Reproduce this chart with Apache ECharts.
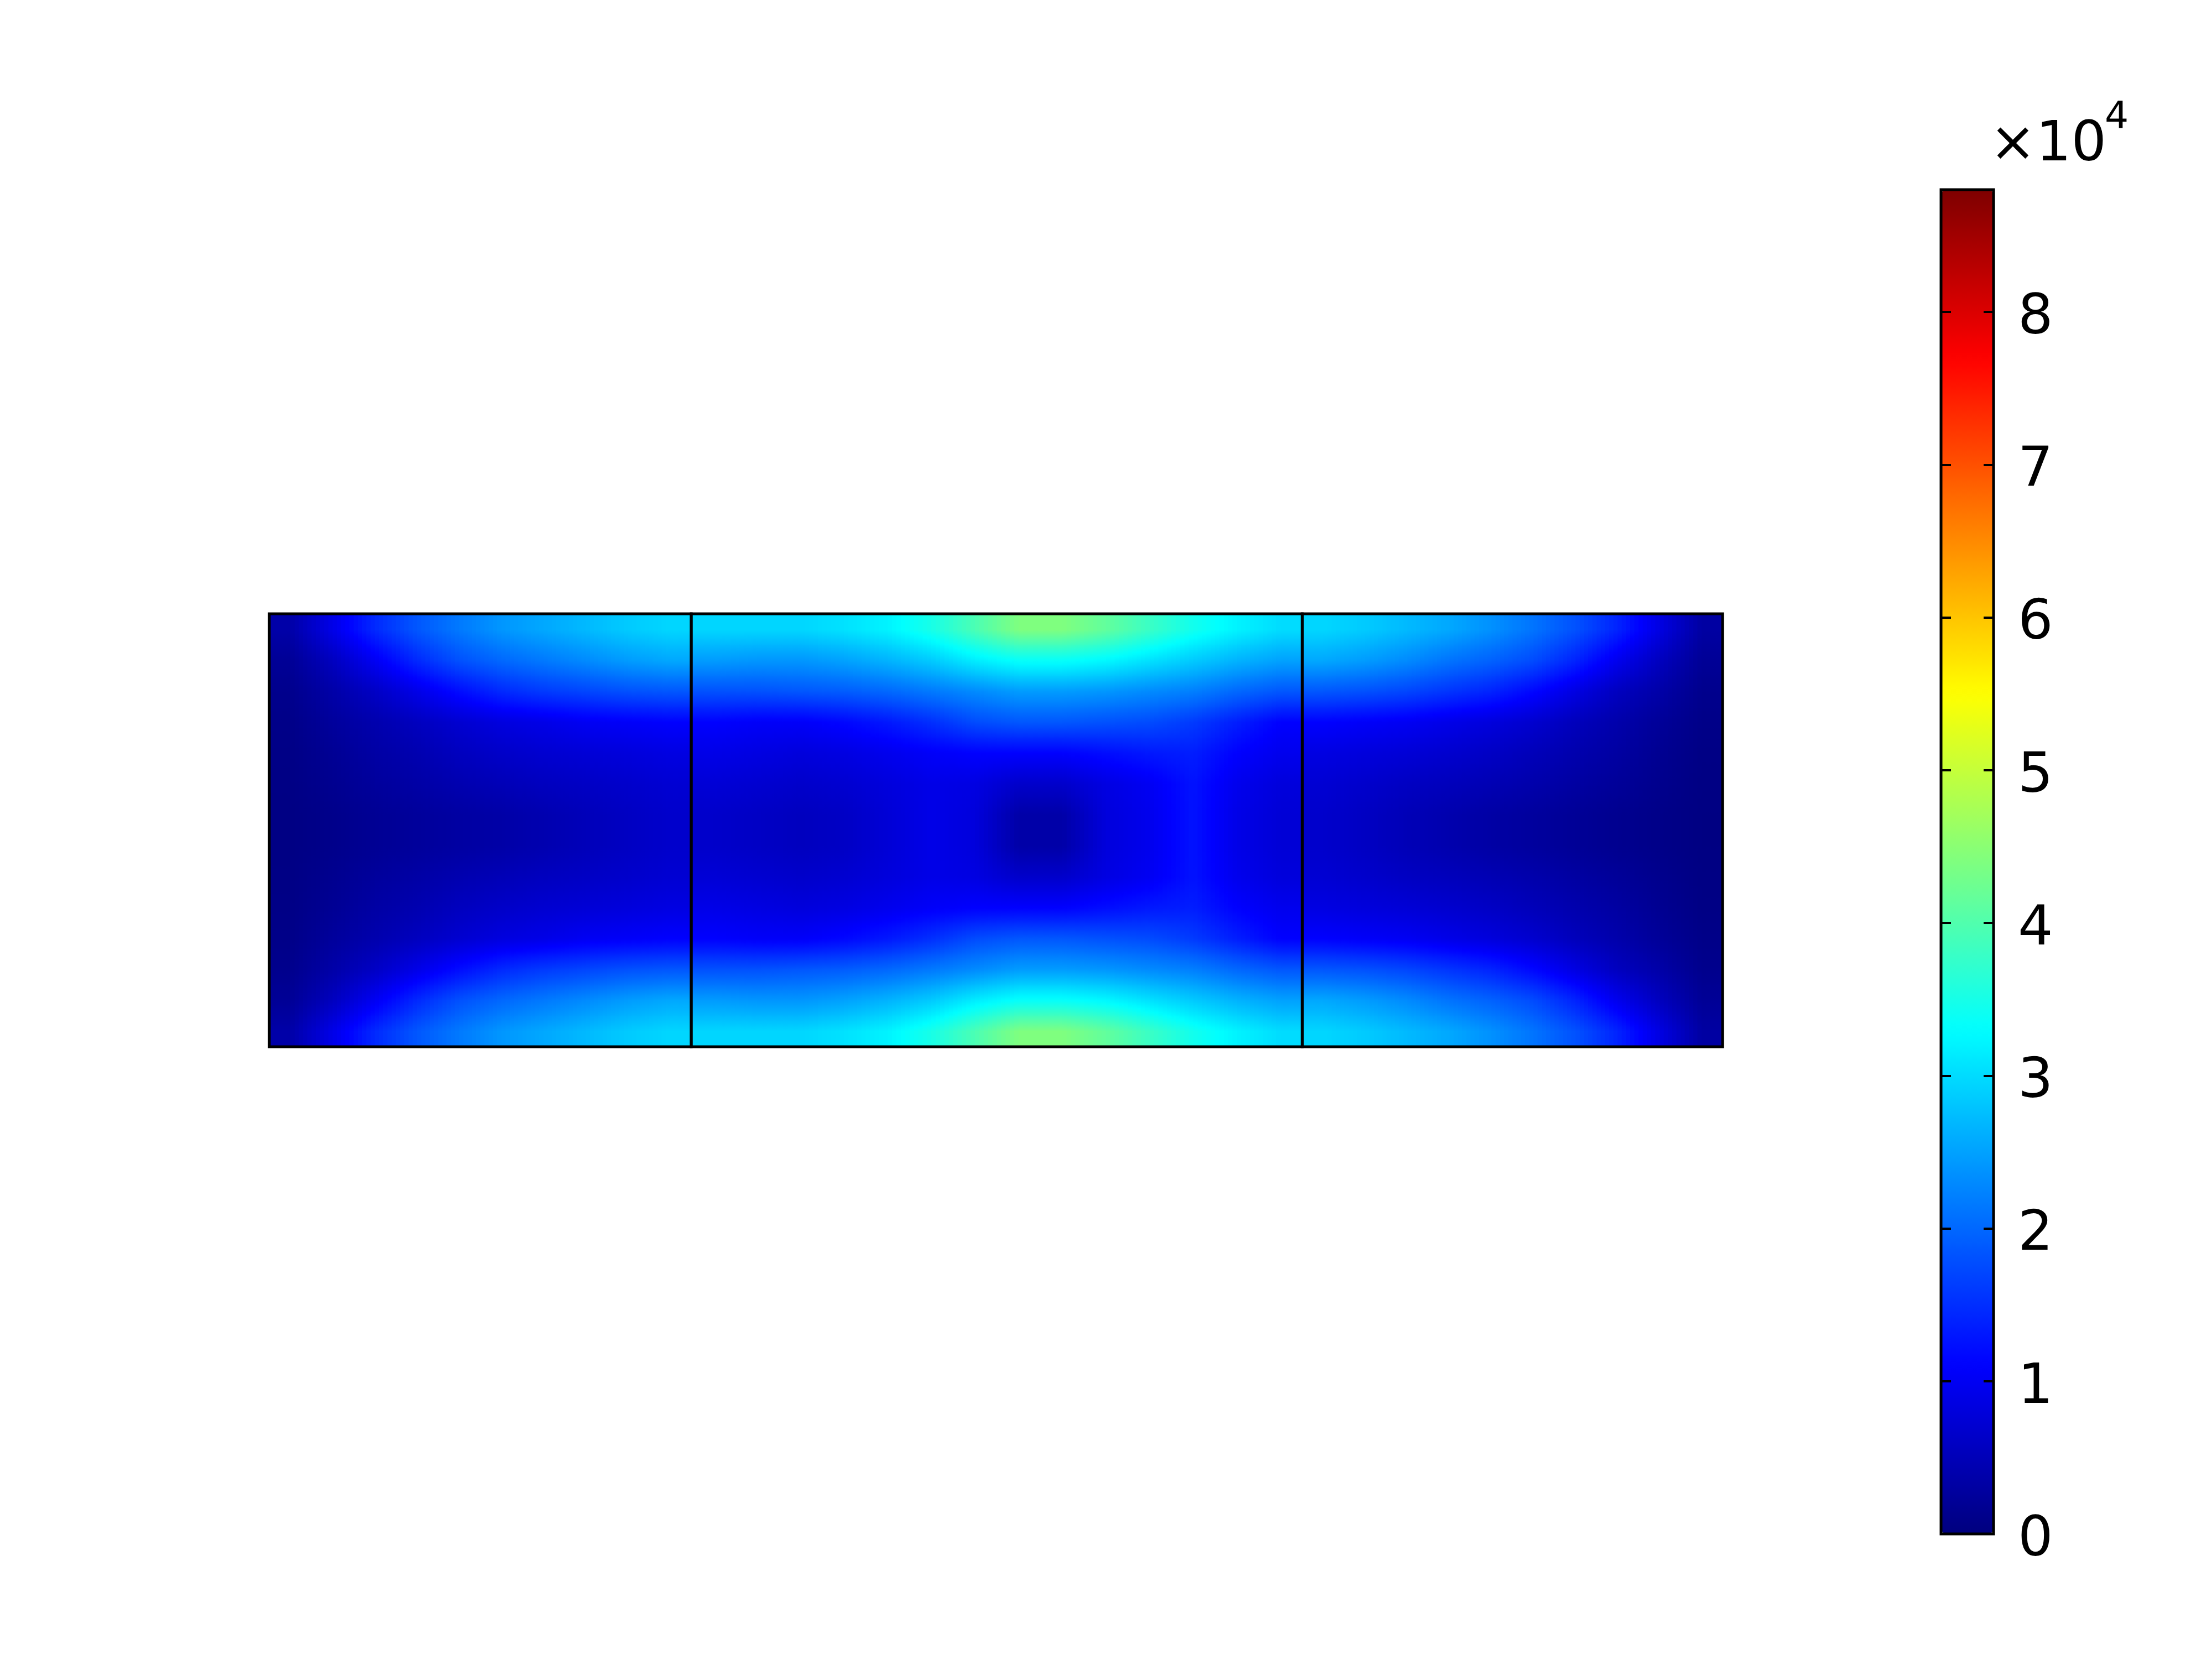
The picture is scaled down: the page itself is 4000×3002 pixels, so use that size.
<!DOCTYPE html>
<html>
<head>
<meta charset="utf-8">
<title>Surface plot</title>
<script src="https://cdn.jsdelivr.net/npm/echarts@6/dist/echarts.min.js"></script>
<style>
  html, body { margin: 0; padding: 0; background: #fff; }
  #main { width: 4000px; height: 3002px; }
</style>
</head>
<body>
<div id="main"></div>
<script>
// surface values in units of 10^4, sampled at cell centres, rows listed top to bottom
var leftRows = [
  [0.35, 0.9, 1.45, 1.85, 2.15, 2.4, 2.55, 2.7, 2.85, 2.95],
  [0.2, 0.55, 1.0, 1.45, 1.8, 2.0, 2.15, 2.3, 2.45, 2.55],
  [0.12, 0.35, 0.6, 0.9, 1.2, 1.45, 1.6, 1.7, 1.8, 1.85],
  [0.08, 0.25, 0.4, 0.55, 0.7, 0.82, 0.9, 1.0, 1.05, 1.1],
  [0.06, 0.18, 0.32, 0.42, 0.55, 0.63, 0.7, 0.75, 0.8, 0.85],
  [0.05, 0.14, 0.25, 0.33, 0.42, 0.48, 0.55, 0.6, 0.66, 0.72],
  [0.04, 0.1, 0.18, 0.24, 0.3, 0.34, 0.42, 0.5, 0.58, 0.66],
  [0.04, 0.1, 0.18, 0.24, 0.3, 0.34, 0.42, 0.5, 0.58, 0.66],
  [0.05, 0.14, 0.25, 0.33, 0.42, 0.48, 0.55, 0.6, 0.66, 0.72],
  [0.06, 0.18, 0.32, 0.42, 0.55, 0.63, 0.7, 0.75, 0.8, 0.85],
  [0.08, 0.25, 0.4, 0.55, 0.7, 0.82, 0.9, 1.0, 1.05, 1.1],
  [0.12, 0.35, 0.6, 0.9, 1.2, 1.45, 1.6, 1.7, 1.8, 1.85],
  [0.2, 0.55, 1.0, 1.45, 1.8, 2.0, 2.15, 2.3, 2.45, 2.55],
  [0.35, 0.9, 1.45, 1.85, 2.15, 2.4, 2.55, 2.7, 2.85, 2.95]
];
var midRows = [
  [2.95, 2.95, 2.95, 3.05, 3.2, 3.5, 3.95, 4.4, 4.4, 4.15, 3.8, 3.45, 3.2, 3.0],
  [2.45, 2.4, 2.4, 2.5, 2.65, 2.85, 3.15, 3.35, 3.35, 3.25, 3.05, 2.85, 2.65, 2.5],
  [1.8, 1.8, 1.85, 1.9, 2.0, 2.15, 2.3, 2.45, 2.45, 2.4, 2.3, 2.2, 2.0, 1.85],
  [1.1, 1.05, 1.05, 1.15, 1.3, 1.5, 1.75, 1.85, 1.85, 1.8, 1.75, 1.6, 1.35, 1.1],
  [0.9, 0.85, 0.8, 0.85, 0.95, 1.05, 1.1, 1.1, 1.1, 1.2, 1.3, 1.35, 1.1, 0.95],
  [0.75, 0.7, 0.65, 0.7, 0.8, 0.9, 0.85, 0.65, 0.65, 0.85, 1.0, 1.25, 0.95, 0.8],
  [0.65, 0.6, 0.55, 0.6, 0.75, 0.9, 0.8, 0.35, 0.35, 0.8, 0.95, 1.25, 0.9, 0.75],
  [0.65, 0.6, 0.55, 0.6, 0.75, 0.9, 0.8, 0.35, 0.35, 0.8, 0.95, 1.25, 0.9, 0.75],
  [0.75, 0.7, 0.65, 0.7, 0.8, 0.9, 0.85, 0.65, 0.65, 0.85, 1.0, 1.25, 0.95, 0.8],
  [0.9, 0.85, 0.8, 0.85, 0.95, 1.05, 1.1, 1.1, 1.1, 1.2, 1.3, 1.35, 1.1, 0.95],
  [1.1, 1.05, 1.05, 1.15, 1.3, 1.5, 1.75, 1.85, 1.85, 1.8, 1.75, 1.6, 1.35, 1.1],
  [1.8, 1.8, 1.85, 1.9, 2.0, 2.15, 2.3, 2.45, 2.45, 2.4, 2.3, 2.2, 2.0, 1.85],
  [2.45, 2.4, 2.4, 2.5, 2.65, 2.85, 3.15, 3.35, 3.35, 3.25, 3.05, 2.85, 2.65, 2.5],
  [2.95, 2.95, 2.95, 3.05, 3.2, 3.5, 3.95, 4.4, 4.4, 4.15, 3.8, 3.45, 3.2, 3.0]
];
var rightRows = [
  [2.95, 2.85, 2.7, 2.55, 2.35, 2.1, 1.8, 1.4, 0.85, 0.3],
  [2.55, 2.45, 2.3, 2.1, 1.95, 1.75, 1.4, 0.95, 0.55, 0.2],
  [1.85, 1.8, 1.7, 1.55, 1.4, 1.15, 0.85, 0.55, 0.35, 0.12],
  [1.1, 1.05, 1.0, 0.9, 0.8, 0.68, 0.52, 0.38, 0.22, 0.08],
  [0.85, 0.8, 0.75, 0.68, 0.6, 0.5, 0.4, 0.3, 0.16, 0.05],
  [0.72, 0.66, 0.58, 0.52, 0.45, 0.38, 0.3, 0.22, 0.12, 0.04],
  [0.66, 0.58, 0.48, 0.4, 0.32, 0.26, 0.2, 0.14, 0.08, 0.03],
  [0.66, 0.58, 0.48, 0.4, 0.32, 0.26, 0.2, 0.14, 0.08, 0.03],
  [0.72, 0.66, 0.58, 0.52, 0.45, 0.38, 0.3, 0.22, 0.12, 0.04],
  [0.85, 0.8, 0.75, 0.68, 0.6, 0.5, 0.4, 0.3, 0.16, 0.05],
  [1.1, 1.05, 1.0, 0.9, 0.8, 0.68, 0.52, 0.38, 0.22, 0.08],
  [1.85, 1.8, 1.7, 1.55, 1.4, 1.15, 0.85, 0.55, 0.35, 0.12],
  [2.55, 2.45, 2.3, 2.1, 1.95, 1.75, 1.4, 0.95, 0.55, 0.2],
  [2.95, 2.85, 2.7, 2.55, 2.35, 2.1, 1.8, 1.4, 0.85, 0.3]
];

// colour bar range (x10^4)
var barMin = 0;
var barMax = 8.8;
var barStep = 1;
var jetColors = ['#00007f', '#0000ff', '#007fff', '#00ffff', '#7fff7f',
                 '#ffff00', '#ff7f00', '#ff0000', '#7f0000'];

function indexList(n) {
  var out = [];
  for (var i = 0; i < n; i++) out.push(i);
  return out;
}
function toCells(rows) {
  var out = [];
  rows.forEach(function (row, r) {
    row.forEach(function (v, c) { out.push([c, r, v]); });
  });
  return out;
}

// smooth shading inside a cell: bilinear between neighbouring cell centres
function shadeAt(rows, fx, fy) {
  var nr = rows.length, nc = rows[0].length;
  fx = Math.max(0, Math.min(nc - 1, fx));
  fy = Math.max(0, Math.min(nr - 1, fy));
  var c0 = Math.min(Math.floor(fx), nc - 2), r0 = Math.min(Math.floor(fy), nr - 2);
  var tx = fx - c0, ty = fy - r0;
  var top = rows[r0][c0] * (1 - tx) + rows[r0][c0 + 1] * tx;
  var bot = rows[r0 + 1][c0] * (1 - tx) + rows[r0 + 1][c0 + 1] * tx;
  return top * (1 - ty) + bot * ty;
}
function jet(v) {
  var t = Math.max(0, Math.min(1, (v - barMin) / (barMax - barMin)));
  return echarts.color.lerp(t, jetColors);
}
function cellRenderer(rows) {
  var strips = 10, stops = 9;
  return function (params, api) {
    var c = api.value(0), r = api.value(1);
    var center = api.coord([c, r]);
    var size = api.size([1, 1]);
    var w = size[0], h = size[1];
    var x0 = center[0] - w / 2, y0 = center[1] - h / 2;
    var children = [];
    for (var s = 0; s < strips; s++) {
      var fx = c - 0.5 + (s + 0.5) / strips;
      var colorStops = [];
      for (var k = 0; k < stops; k++) {
        var fy = r - 0.5 + k / (stops - 1);
        colorStops.push({ offset: k / (stops - 1), color: jet(shadeAt(rows, fx, fy)) });
      }
      children.push({
        type: 'rect',
        shape: { x: x0 + s * w / strips, y: y0, width: w / strips + 1, height: h + 1 },
        style: { fill: new echarts.graphic.LinearGradient(0, 0, 0, 1, colorStops) },
        silent: true
      });
    }
    return { type: 'group', children: children };
  };
}

var chartDom = document.getElementById('main');
var myChart = echarts.init(chartDom, null, { renderer: 'canvas' });
var font = 'DejaVu Sans';

var sections = [leftRows, midRows, rightRows];
var gridBoxes = [
  { left: 487, top: 1110, width: 763, height: 783 },
  { left: 1250, top: 1110, width: 1105, height: 783 },
  { left: 2355, top: 1110, width: 760, height: 783 }
];

var grids = [], xAxes = [], yAxes = [], series = [];
sections.forEach(function (rows, i) {
  grids.push(Object.assign({ show: true, borderColor: '#000', borderWidth: 5,
    backgroundColor: 'transparent', z: 10 }, gridBoxes[i]));
  xAxes.push({ type: 'category', gridIndex: i, data: indexList(rows[0].length), show: false });
  yAxes.push({ type: 'category', gridIndex: i, data: indexList(rows.length), inverse: true, show: false });
  series.push({ type: 'custom', xAxisIndex: i, yAxisIndex: i, data: toCells(rows),
    renderItem: cellRenderer(rows), encode: { x: 0, y: 1 }, silent: true, clip: true });
});

// colour bar frame and ticks
grids.push({ show: true, left: 3510, top: 343, width: 95, height: 2431,
  borderColor: '#000', borderWidth: 5, backgroundColor: 'transparent', z: 10 });
xAxes.push({ type: 'value', gridIndex: 3, show: false });
var barAxis = {
  type: 'value', gridIndex: 3, min: barMin, max: barMax, interval: barStep, z: 12,
  axisLine: { show: false },
  axisTick: { show: true, inside: true, length: 18, lineStyle: { color: '#000', width: 4 } },
  splitLine: { show: false }
};
yAxes.push(Object.assign({}, barAxis, { position: 'left', axisLabel: { show: false } }));
yAxes.push(Object.assign({}, barAxis, { position: 'right',
  axisLabel: { show: true, color: '#000', fontSize: 100, fontFamily: font, margin: 44,
    showMaxLabel: false, verticalAlign: 'top', lineHeight: 26 } }));

var option = {
  backgroundColor: '#fff',
  animation: false,
  grid: grids,
  xAxis: xAxes,
  yAxis: yAxes,
  visualMap: {
    type: 'continuous', min: barMin, max: barMax, seriesIndex: [0, 1, 2], dimension: 2,
    calculable: false, orient: 'vertical', left: 3512, top: 345,
    itemWidth: 91, itemHeight: 2427, padding: 0, text: null,
    inRange: { color: jetColors }
  },
  graphic: [
    { type: 'text', left: 3598, top: 214, z: 20,
      style: { text: '\u00d710', fontSize: 100, fontFamily: font, fill: '#000' } },
    { type: 'text', left: 3806, top: 180, z: 20,
      style: { text: '4', fontSize: 68, fontFamily: font, fill: '#000' } }
  ],
  series: series
};

myChart.setOption(option);
</script>
</body>
</html>
